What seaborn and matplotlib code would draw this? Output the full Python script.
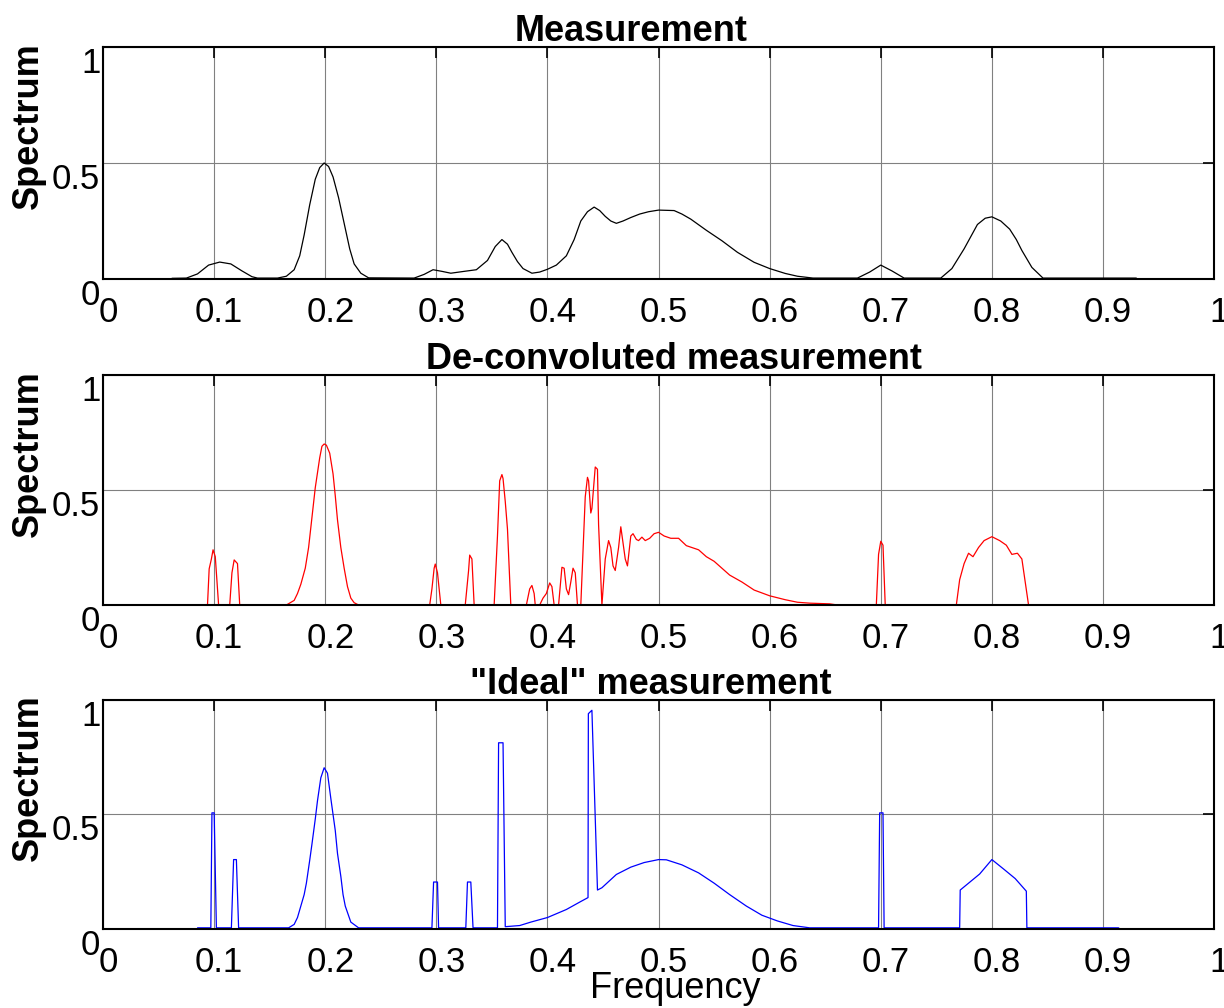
import matplotlib
matplotlib.use("Agg")
import matplotlib.pyplot as plt
import matplotlib.transforms as mtransforms
import seaborn as sns
import pandas as pd

# ---------------- data ----------------
meas_x = [0.062, 0.075, 0.085, 0.095, 0.105, 0.115, 0.125, 0.134, 0.139, 0.157, 0.165, 0.172,
          0.177, 0.181, 0.186, 0.191, 0.195, 0.199, 0.203, 0.207, 0.212, 0.217, 0.222, 0.226,
          0.232, 0.239, 0.28, 0.289, 0.297, 0.305, 0.313, 0.325, 0.336, 0.346, 0.353, 0.359,
          0.364, 0.368, 0.373, 0.378, 0.386, 0.393, 0.4, 0.408, 0.417, 0.424, 0.43, 0.436,
          0.442, 0.447, 0.452, 0.457, 0.462, 0.468, 0.475, 0.483, 0.491, 0.5, 0.514, 0.521,
          0.529, 0.543, 0.557, 0.571, 0.586, 0.6, 0.614, 0.625, 0.639, 0.679, 0.69, 0.7,
          0.71, 0.721, 0.754, 0.764, 0.775, 0.787, 0.794, 0.8, 0.808, 0.816, 0.822, 0.827,
          0.836, 0.846, 0.93]
meas_y = [0.003, 0.004, 0.022, 0.06, 0.073, 0.065, 0.035, 0.01, 0.004, 0.004, 0.012, 0.04,
          0.1, 0.19, 0.32, 0.43, 0.48, 0.5, 0.485, 0.44, 0.35, 0.24, 0.13, 0.065,
          0.025, 0.005, 0.004, 0.02, 0.04, 0.033, 0.025, 0.033, 0.04, 0.08, 0.14, 0.17,
          0.15, 0.115, 0.075, 0.045, 0.025, 0.03, 0.042, 0.06, 0.1, 0.17, 0.25, 0.29,
          0.31, 0.295, 0.27, 0.25, 0.24, 0.25, 0.265, 0.28, 0.29, 0.297, 0.295, 0.28,
          0.258, 0.21, 0.165, 0.115, 0.072, 0.045, 0.024, 0.012, 0.004, 0.004, 0.03, 0.06,
          0.035, 0.004, 0.004, 0.045, 0.13, 0.235, 0.262, 0.268, 0.25, 0.215, 0.17, 0.123,
          0.05, 0.004, 0.004]

deconv_x = [0.0, 0.094, 0.0955, 0.0975, 0.099, 0.101, 0.104, 0.114, 0.116, 0.118, 0.121, 0.123,
            0.165, 0.172, 0.175, 0.178, 0.182, 0.185, 0.188, 0.191, 0.195, 0.197, 0.199, 0.201,
            0.204, 0.207, 0.209, 0.211, 0.214, 0.217, 0.22, 0.223, 0.226, 0.23, 0.294, 0.296,
            0.298, 0.299, 0.301, 0.304, 0.326, 0.329, 0.330, 0.332, 0.334, 0.352, 0.355, 0.357,
            0.359, 0.360, 0.362, 0.364, 0.367, 0.381, 0.384, 0.386, 0.388, 0.389, 0.393, 0.396,
            0.399, 0.402, 0.404, 0.406, 0.41, 0.413, 0.415, 0.417, 0.419, 0.421, 0.423, 0.425,
            0.427, 0.43, 0.434, 0.436, 0.437, 0.439, 0.440, 0.443, 0.445, 0.446, 0.449, 0.452,
            0.455, 0.457, 0.459, 0.461, 0.464, 0.466, 0.468, 0.470, 0.472, 0.475, 0.477, 0.480,
            0.482, 0.485, 0.488, 0.492, 0.496, 0.5, 0.505, 0.511, 0.518, 0.525, 0.536, 0.543,
            0.55, 0.564, 0.575, 0.586, 0.6, 0.614, 0.625, 0.636, 0.654, 0.661, 0.696, 0.698,
            0.7, 0.702, 0.704, 0.768, 0.771, 0.775, 0.779, 0.783, 0.788, 0.793, 0.8, 0.807,
            0.813, 0.818, 0.823, 0.827, 0.830, 0.833, 1.0]
deconv_y = [0.0, 0.0, 0.157, 0.2, 0.24, 0.21, 0.0, 0.0, 0.14, 0.196, 0.18, 0.0,
            0.0, 0.02, 0.05, 0.09, 0.16, 0.25, 0.38, 0.51, 0.64, 0.69, 0.70, 0.695,
            0.66, 0.57, 0.475, 0.37, 0.25, 0.16, 0.08, 0.03, 0.01, 0.0, 0.0, 0.07,
            0.16, 0.178, 0.14, 0.0, 0.0, 0.15, 0.217, 0.2, 0.0, 0.0, 0.3, 0.54,
            0.567, 0.55, 0.45, 0.33, 0.0, 0.0, 0.07, 0.085, 0.05, 0.0, 0.0, 0.03,
            0.05, 0.096, 0.08, 0.0, 0.0, 0.164, 0.16, 0.07, 0.045, 0.1, 0.16, 0.14,
            0.0, 0.0, 0.47, 0.555, 0.54, 0.4, 0.42, 0.6, 0.59, 0.35, 0.0, 0.2,
            0.28, 0.25, 0.17, 0.15, 0.25, 0.34, 0.27, 0.2, 0.17, 0.3, 0.31, 0.285,
            0.28, 0.295, 0.28, 0.29, 0.31, 0.316, 0.3, 0.29, 0.29, 0.258, 0.24, 0.21,
            0.19, 0.13, 0.1, 0.065, 0.04, 0.023, 0.012, 0.008, 0.005, 0.0, 0.0, 0.22,
            0.277, 0.26, 0.0, 0.0, 0.11, 0.18, 0.225, 0.21, 0.25, 0.28, 0.297, 0.28,
            0.26, 0.22, 0.225, 0.2, 0.1, 0.0, 0.0]

ideal_x = [0.0, 0.085, 0.0851, 0.097, 0.098, 0.1, 0.102, 0.1155, 0.1175, 0.12, 0.122, 0.167,
           0.172, 0.175, 0.178, 0.181, 0.183, 0.186, 0.188, 0.191, 0.193, 0.196, 0.199, 0.202,
           0.205, 0.207, 0.209, 0.211, 0.214, 0.216, 0.218, 0.223, 0.23, 0.296, 0.2975, 0.301,
           0.302, 0.3265, 0.328, 0.331, 0.333, 0.355, 0.356, 0.36, 0.362, 0.375, 0.385, 0.4,
           0.417, 0.43, 0.4365, 0.4368, 0.44, 0.445, 0.449, 0.462, 0.475, 0.487, 0.5, 0.507,
           0.521, 0.536, 0.55, 0.564, 0.579, 0.593, 0.607, 0.621, 0.636, 0.698, 0.699, 0.702,
           0.703, 0.771, 0.7715, 0.779, 0.789, 0.8, 0.811, 0.821, 0.831, 0.8315, 0.914, 0.915,
           1.0]
ideal_y = [0.0, 0.0, 0.005, 0.005, 0.507, 0.507, 0.005, 0.005, 0.303, 0.303, 0.005, 0.005,
           0.02, 0.05, 0.1, 0.15, 0.2, 0.3, 0.37, 0.48, 0.56, 0.66, 0.704, 0.68,
           0.57, 0.5, 0.43, 0.33, 0.23, 0.15, 0.1, 0.03, 0.005, 0.005, 0.205, 0.205,
           0.005, 0.005, 0.205, 0.205, 0.005, 0.005, 0.813, 0.813, 0.01, 0.015, 0.03, 0.05,
           0.085, 0.12, 0.137, 0.94, 0.955, 0.17, 0.18, 0.238, 0.27, 0.29, 0.303, 0.302,
           0.28, 0.245, 0.2, 0.15, 0.1, 0.06, 0.035, 0.015, 0.005, 0.005, 0.507, 0.507,
           0.005, 0.005, 0.17, 0.2, 0.24, 0.303, 0.26, 0.22, 0.165, 0.005, 0.005, 0.0,
           0.0]

panel_titles = ["Measurement", "De-convoluted measurement", "\"Ideal\" measurement"]
x_ticks = [0.0, 0.1, 0.2, 0.3, 0.4, 0.5, 0.6, 0.7, 0.8, 0.9, 1.0]
x_tick_labels = ["0", "0.1", "0.2", "0.3", "0.4", "0.5", "0.6", "0.7", "0.8", "0.9", "1"]
y_ticks = [0.0, 0.5, 1.0]
y_tick_labels = ["0", "0.5", "1"]
y_label = "Spectrum"
x_label = "Frequency"

# ---------------- style ----------------
sns.set_style("white")
plt.rcParams["font.family"] = ["Liberation Sans", "DejaVu Sans"]
plt.rcParams["text.color"] = "black"
plt.rcParams["axes.labelcolor"] = "black"
plt.rcParams["xtick.color"] = "black"
plt.rcParams["ytick.color"] = "black"
plt.rcParams["axes.edgecolor"] = "black"

fig = plt.figure(figsize=(12.24, 10.08), dpi=100)
positions = [[0.0842, 0.7232, 0.9077, 0.2302],
             [0.0842, 0.3998, 0.9077, 0.2282],
             [0.0842, 0.0784, 0.9077, 0.2272]]
title_x = [0.475, 0.514, 0.493]

series = [(meas_x, meas_y, "black"), (deconv_x, deconv_y, "#ff0000"), (ideal_x, ideal_y, "#0000ff")]
xlabel_shift = mtransforms.ScaledTranslation(5 / 100, 0, fig.dpi_scale_trans)

axes = []
for i, (xs, ys, col) in enumerate(series):
    ax = fig.add_axes(positions[i])
    df = pd.DataFrame({"Frequency": xs, "Spectrum": ys})
    sns.lineplot(data=df, x="Frequency", y="Spectrum", ax=ax, color=col,
                 linewidth=0.9, estimator=None, sort=False)
    ax.set_xlim(0, 1)
    ax.set_ylim(0, 1)
    ax.set_xticks(x_ticks, labels=x_tick_labels)
    ax.set_yticks(y_ticks, labels=y_tick_labels, va="top")
    ax.grid(True, color="#808080", linewidth=0.8)
    ax.set_axisbelow(True)
    for s in ax.spines.values():
        s.set_visible(True)
        s.set_linewidth(1.5)
        s.set_color("black")
    ax.tick_params(axis="both", which="major", direction="in", length=8, width=1.2,
                   top=True, right=True, labelsize=25)
    ax.tick_params(axis="x", pad=12)
    ax.tick_params(axis="y", pad=2)
    for lbl in ax.get_xticklabels():
        lbl.set_transform(lbl.get_transform() + xlabel_shift)
    ax.set_title(panel_titles[i], fontsize=26, fontweight="bold", pad=4, x=title_x[i])
    ax.set_ylabel(y_label, fontsize=26, fontweight="bold")
    ax.yaxis.label.set_va("center")
    ax.yaxis.set_label_coords(-0.067, 0.66)
    if i < 2:
        ax.set_xlabel("")
    else:
        ax.set_xlabel(x_label, fontsize=26)
        ax.xaxis.label.set_va("center")
        ax.xaxis.set_label_coords(0.515, -0.258)
    axes.append(ax)

fig.savefig("out.png", dpi=100, facecolor="white")
